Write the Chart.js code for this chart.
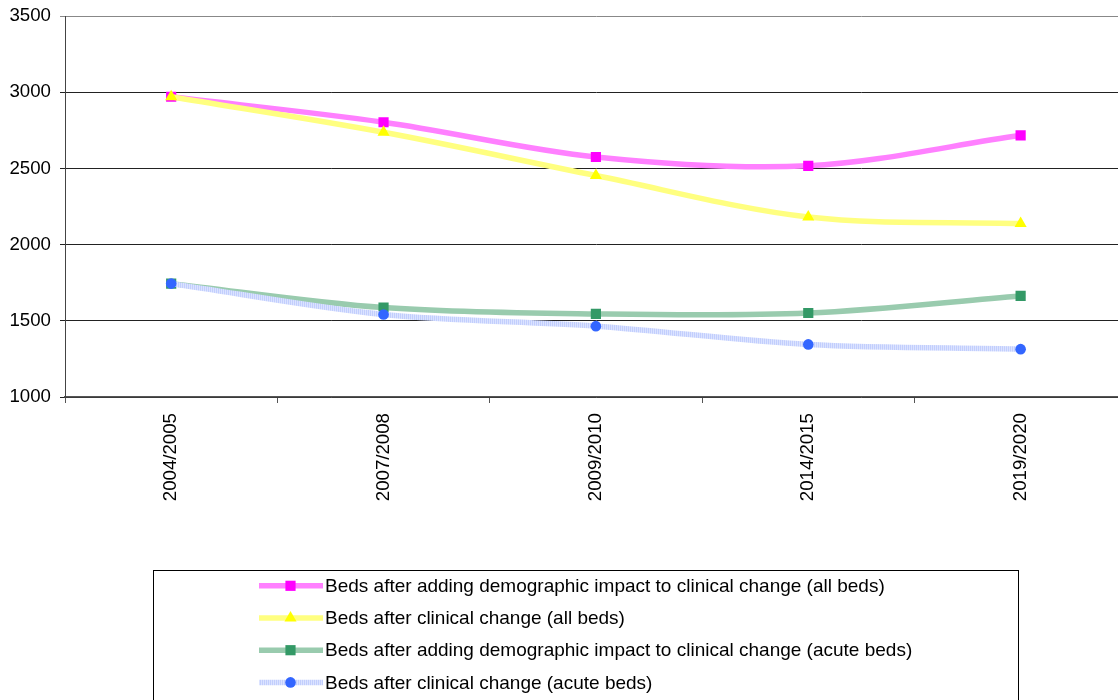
<!DOCTYPE html>
<html>
<head>
<meta charset="utf-8">
<script src="https://cdn.jsdelivr.net/npm/chart.js@4/dist/chart.umd.min.js"></script>
<style>
  html, body { margin: 0; padding: 0; background: #fff; overflow: hidden; width: 1118px; height: 700px; }
  #wrap { width: 1134px; height: 700px; }
</style>
</head>
<body>
<div id="wrap"><canvas id="c" width="1134" height="700"></canvas></div>
<script>
// Bed projections by period
const periods = ['2004/2005', '2007/2008', '2009/2010', '2014/2015', '2019/2020'];
const allBedsWithDemography   = [2970, 2803, 2575, 2517, 2717];
const allBedsClinical         = [2970, 2737, 2453, 2181, 2138];
const acuteBedsWithDemography = [1744, 1587, 1545, 1551, 1663];
const acuteBedsClinical       = [1744, 1541, 1465, 1345, 1314];
const yTickValues = [1000, 1500, 2000, 2500, 3000, 3500];

const FONT = { family: "'Liberation Sans', Arial, sans-serif", size: 18.67 };
const LEGEND_FONT_SIZE = 19;

// finely striped light-blue stroke for the acute clinical series
function stripePattern() {
  const p = document.createElement('canvas');
  p.width = 2; p.height = 1;
  const g = p.getContext('2d');
  g.fillStyle = '#c2cefd'; g.fillRect(0, 0, 1, 1);
  g.fillStyle = '#dbe3ff'; g.fillRect(1, 0, 1, 1);
  return document.getElementById('c').getContext('2d').createPattern(p, 'repeat');
}

// boxed legend underneath the plot
const boxLegend = {
  id: 'boxLegend',
  afterDraw(chart) {
    const ctx = chart.ctx;
    ctx.save();
    ctx.strokeStyle = '#000';
    ctx.lineWidth = 1;
    ctx.strokeRect(153.5, 570.5, 865, 150);
    chart.data.datasets.forEach((ds, i) => {
      const y = 585.8 + i * 32.2;
      ctx.strokeStyle = ds.borderColor;
      ctx.lineWidth = ds.borderWidth;
      ctx.beginPath();
      ctx.moveTo(259, y);
      ctx.lineTo(323, y);
      ctx.stroke();
      ctx.fillStyle = ds.pointBackgroundColor;
      Chart.helpers.drawPoint(ctx, { pointStyle: ds.pointStyle, radius: ds.pointRadius, borderWidth: 0, rotation: 0 }, 290.5, y);
      ctx.fillStyle = '#000';
      ctx.font = LEGEND_FONT_SIZE + 'px ' + FONT.family;
      ctx.textBaseline = 'middle';
      ctx.textAlign = 'left';
      ctx.fillText(ds.label, 325, y + 1);
    });
    ctx.restore();
  }
};

new Chart(document.getElementById('c'), {
  type: 'line',
  data: {
    labels: periods,
    datasets: [
      {
        label: 'Beds after adding demographic impact to clinical change (all beds)',
        data: allBedsWithDemography,
        borderColor: '#ff80ff', borderWidth: 5.5,
        pointStyle: 'rect', pointRadius: 7.2,
        pointBackgroundColor: '#ff00ff', pointBorderWidth: 0,
        tension: 0.33, order: 4
      },
      {
        label: 'Beds after clinical change (all beds)',
        data: allBedsClinical,
        borderColor: '#ffff80', borderWidth: 5.5,
        pointStyle: 'triangle', pointRadius: 7,
        pointBackgroundColor: '#ffff00', pointBorderWidth: 0,
        tension: 0.33, order: 3
      },
      {
        label: 'Beds after adding demographic impact to clinical change (acute beds)',
        data: acuteBedsWithDemography,
        borderColor: '#99cbae', borderWidth: 5.5,
        pointStyle: 'rect', pointRadius: 7.2,
        pointBackgroundColor: '#339966', pointBorderWidth: 0,
        tension: 0.33, order: 2
      },
      {
        label: 'Beds after clinical change (acute beds)',
        data: acuteBedsClinical,
        borderColor: stripePattern(), borderWidth: 5.5,
        pointStyle: 'circle', pointRadius: 5.3,
        pointBackgroundColor: '#3366ff', pointBorderWidth: 0,
        tension: 0.33, order: 1
      }
    ]
  },
  options: {
    responsive: false,
    devicePixelRatio: 1,
    animation: false,
    layout: { padding: { top: 16, left: 0, right: 0, bottom: 0 } },
    plugins: { legend: { display: false }, tooltip: { enabled: false } },
    scales: {
      x: {
        type: 'category',
        offset: true,
        grid: { drawOnChartArea: false, drawTicks: true, tickLength: 6, color: '#555', offset: true },
        border: { color: '#555', width: 1.5 },
        ticks: { minRotation: 90, maxRotation: 90, autoSkip: false, padding: 10, color: '#000', font: FONT },
        afterFit(scale) { scale.height = 303; }
      },
      y: {
        min: 1000, max: 3500,
        afterBuildTicks(scale) { scale.ticks = yTickValues.map(v => ({ value: v })); },
        grid: {
          color: c => (c.tick && c.tick.value === 3500) ? '#888' : '#222',
          lineWidth: 1, tickLength: 5
        },
        border: { color: '#444', width: 1 },
        ticks: { padding: 9, color: '#000', font: FONT, callback: v => String(v) },
        afterFit(scale) {
          scale.width = 65;
          scale.paddingTop = 0;
          scale.paddingBottom = 0;
        }
      }
    }
  },
  plugins: [boxLegend]
});
</script>
</body>
</html>
